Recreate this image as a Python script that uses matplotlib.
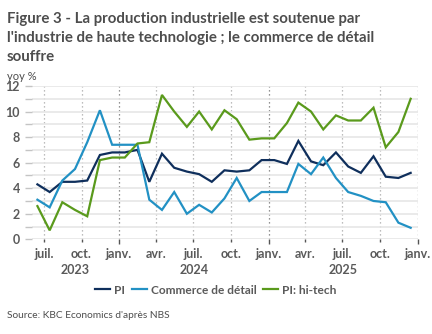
import datetime as dt
import matplotlib
matplotlib.use("Agg")
import matplotlib.pyplot as plt
import matplotlib.dates as mdates
import matplotlib.transforms as mtransforms

# Monthly series, June 2023 - December 2025 (yoy %)
start_year, start_month = 2023, 6
pi = [4.3, 3.7, 4.5, 4.5, 4.6, 6.6, 6.8, 6.8, 7.0, 4.5, 6.7, 5.6, 5.3, 5.1, 4.5,
      5.4, 5.3, 5.4, 6.2, 6.2, 5.9, 7.7, 6.1, 5.8, 6.8, 5.7, 5.2, 6.5, 4.9, 4.8, 5.2]
retail = [3.1, 2.5, 4.6, 5.5, 7.6, 10.1, 7.4, 7.4, 7.4, 3.1, 2.3, 3.7, 2.0, 2.7, 2.1,
          3.2, 4.8, 3.0, 3.7, 3.7, 3.7, 5.9, 5.1, 6.4, 4.8, 3.7, 3.4, 3.0, 2.9, 1.3, 0.9]
hitech = [2.6, 0.7, 2.9, 2.3, 1.8, 6.2, 6.4, 6.4, 7.5, 7.6, 11.3, 10.0, 8.8, 10.0, 8.6,
          10.1, 9.4, 7.8, 7.9, 7.9, 9.1, 10.7, 10.0, 8.6, 9.7, 9.3, 9.3, 10.3, 7.2, 8.4, 11.0]

series_names = ["PI", "Commerce de détail", "PI: hi-tech"]
series_colors = ["#0f2f5c", "#2291c4", "#5a9a1c"]

month_names = {1: "janv.", 4: "avr.", 7: "juil.", 10: "oct."}
years = [2023, 2024, 2025]

title_lines = ["Figure 3 - La production industrielle est soutenue par",
               "l'industrie de haute technologie ; le commerce de détail",
               "souffre"]
unit_label = "yoy %"
source_text = "Source: KBC Economics d'après NBS"


def month_date(i, day=15):
    m = start_month - 1 + i
    return dt.datetime(start_year + m // 12, m % 12 + 1, day)


dates = [month_date(i) for i in range(len(pi))]

TXT = "#4d4d4d"
TICK = "#5a5a5a"
FONT = "Lato"

W, H = 432, 334
fig = plt.figure(figsize=(W / 100, H / 100), dpi=100)
ax = fig.add_axes([31.7 / W, 1 - 239.3 / H, (417.6 - 31.7) / W, (239.3 - 86) / H])

for vals, name, col in zip([pi, retail, hitech], series_names, series_colors):
    ax.plot(dates, vals, color=col, lw=1.6, label=name, solid_joinstyle="miter", zorder=3)

x0 = dt.datetime(2023, 6, 1)
x1 = dt.datetime(2026, 1, 1)
ax.set_xlim(x0, x1)
ax.set_ylim(0, 12)

# Quarter ticks: January as major, others minor
jan_ticks, other_ticks, other_labels = [], [], []
d = dt.datetime(2023, 7, 1)
while d <= x1:
    if d.month == 1:
        jan_ticks.append(d)
    else:
        other_ticks.append(d)
        other_labels.append(month_names[d.month])
    m = d.month + 3
    d = dt.datetime(d.year + (m - 1) // 12, (m - 1) % 12 + 1, 1)

ax.set_xticks(jan_ticks, [month_names[1]] * len(jan_ticks))
ax.set_xticks(other_ticks, other_labels, minor=True)

ax.set_yticks(range(0, 13, 2))
ax.set_yticks(range(1, 13, 2), minor=True)

for s in ax.spines.values():
    s.set_visible(False)

ax.tick_params(axis="y", which="both", length=5, width=1, color="#c4c4c4", pad=3.5,
               labelsize=9, labelcolor=TICK)
ax.tick_params(axis="x", which="major", length=3.5, width=1, color="#555555", pad=2.5,
               labelsize=9, labelcolor=TICK)
ax.tick_params(axis="x", which="minor", length=2, width=1, color="#555555", pad=4,
               labelsize=9, labelcolor=TICK)
for lab in ax.get_xticklabels(which="both") + ax.get_yticklabels():
    lab.set_fontweight("bold")
    lab.set_fontfamily(FONT)

ax.grid(axis="y", which="both", color="#e6e6e6", lw=1.2, zorder=0)
ax.grid(axis="x", which="major", color="#707070", ls=(0, (1, 2.2)), lw=0.9, zorder=1)
ax.grid(axis="x", which="minor", color="#a8a8a8", ls=(0, (1, 2.2)), lw=0.9, zorder=1)
ax.set_axisbelow(True)

# Year labels centred on each year's span within the axis range
trans = mtransforms.blended_transform_factory(ax.transData, fig.transFigure)
for y in years:
    a = max(mdates.date2num(dt.datetime(y, 1, 1)), mdates.date2num(x0))
    b = min(mdates.date2num(dt.datetime(y + 1, 1, 1)), mdates.date2num(x1))
    ax.text((a + b) / 2, 1 - 270 / H, str(y), transform=trans, ha="center", va="center",
            fontsize=9, fontweight="bold", color=TICK, family=FONT)

leg = fig.legend(loc="center", bbox_to_anchor=(0.5, 1 - 290 / H), ncol=3, frameon=False,
                 handlelength=1.25, handletextpad=0.35, columnspacing=0.55,
                 prop={"family": FONT, "weight": "bold", "size": 8.6})
for t in leg.get_texts():
    t.set_color(TICK)
for h in leg.get_lines():
    h.set_linewidth(1.6)

for k, line in enumerate(title_lines):
    fig.text(7 / W, 1 - (23.3 + 19 * k) / H, line, ha="left", va="baseline",
             fontsize=10.8, fontweight="bold", color=TXT, family=FONT)
fig.text(7 / W, 1 - 80 / H, unit_label, ha="left", va="baseline",
         fontsize=8, color=TXT, family=FONT)
fig.text(7 / W, 1 - 316 / H, source_text, ha="left", va="center",
         fontsize=7.3, color=TXT, family=FONT)

fig.savefig("out.png", dpi=100)
